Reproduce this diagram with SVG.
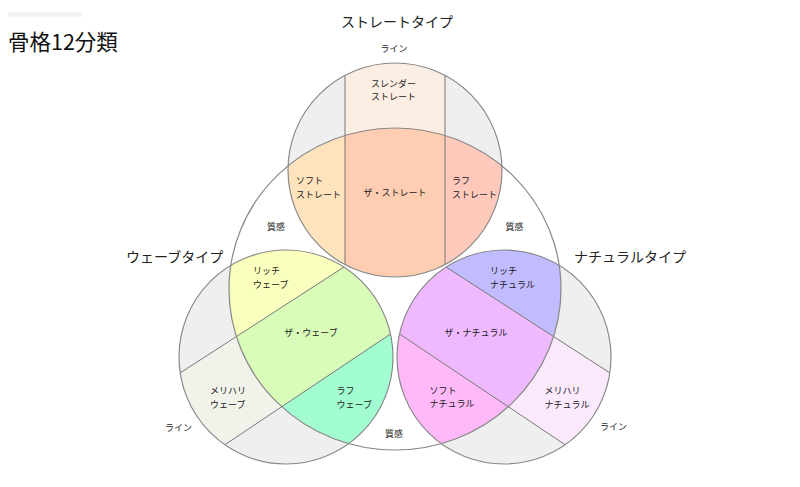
<svg xmlns="http://www.w3.org/2000/svg" width="800" height="487" viewBox="0 0 800 487">
<style>
text{font-family:"Noto Sans CJK JP","Noto Sans",sans-serif;fill:#222}
.t{font-size:14px}
.l{font-size:9px}
.ttl{font-size:21.5px;fill:#111}
.mid{text-anchor:middle}
.div{stroke:#777;stroke-width:1;fill:none}
.ring{fill:none;stroke:#888;stroke-width:1.2}
.gr{fill:#efefef}
</style>
<defs>
<clipPath id="cS"><circle cx="395" cy="170" r="107"/></clipPath>
<clipPath id="cW"><circle cx="286" cy="357" r="107"/></clipPath>
<clipPath id="cN"><circle cx="504" cy="357" r="107"/></clipPath>
<clipPath id="cE"><ellipse cx="395" cy="289" rx="166" ry="161"/></clipPath>
</defs>
<rect width="800" height="487" fill="#fff"/>
<rect x="8" y="12.5" width="74" height="4" fill="#f0f0f5"/>
<text class="ttl" x="8" y="49.5">骨格12分類</text>

<g id="texture">
<ellipse cx="395" cy="289" rx="166" ry="161" fill="#fff"/>
</g>

<g id="straight">
<g clip-path="url(#cS)">
<rect class="gr" x="280" y="55" width="230" height="230"/>
<rect x="345" y="55" width="100" height="230" fill="#fdeee3"/>
<g clip-path="url(#cE)">
<rect x="280" y="55" width="65" height="230" fill="#ffe3bd"/>
<rect x="345" y="55" width="100" height="230" fill="#ffcdb1"/>
<rect x="445" y="55" width="65" height="230" fill="#ffcabc"/>
</g>
<line class="div" x1="345" y1="55" x2="345" y2="285"/>
<line class="div" x1="445" y1="55" x2="445" y2="285"/>
</g>
</g>

<g id="wave">
<g clip-path="url(#cW)">
<rect class="gr" x="170" y="240" width="230" height="235"/>
<polygon points="430,211.4 90,431.2 90,534.9 430,307.6" fill="#f1f3ea"/>
<g clip-path="url(#cE)">
<polygon points="430,211.4 90,431.2 90,200 430,200" fill="#fbffbd"/>
<polygon points="430,211.4 90,431.2 90,534.9 430,307.6" fill="#d9fdb9"/>
<polygon points="430,307.6 90,534.9 90,560 430,560" fill="#a2fdd0"/>
</g>
<line class="div" x1="430" y1="211.4" x2="90" y2="431.2"/>
<line class="div" x1="430" y1="307.6" x2="90" y2="534.9"/>
</g>
</g>

<g id="natural">
<g clip-path="url(#cN)">
<rect class="gr" x="390" y="240" width="230" height="235"/>
<polygon points="360,211.4 700,431.2 700,534.9 360,307.6" fill="#fde9fd"/>
<g clip-path="url(#cE)">
<polygon points="360,211.4 700,431.2 700,200 360,200" fill="#c1bbff"/>
<polygon points="360,211.4 700,431.2 700,534.9 360,307.6" fill="#efb9ff"/>
<polygon points="360,307.6 700,534.9 700,560 360,560" fill="#ffb9f9"/>
</g>
<line class="div" x1="360" y1="211.4" x2="700" y2="431.2"/>
<line class="div" x1="360" y1="307.6" x2="700" y2="534.9"/>
</g>
</g>

<g id="outlines">
<ellipse class="ring" cx="395" cy="289" rx="166" ry="161"/>
<circle class="ring" cx="395" cy="170" r="107"/>
<circle class="ring" cx="286" cy="357" r="107"/>
<circle class="ring" cx="504" cy="357" r="107"/>
</g>

<g id="labels">
<text class="t mid" x="397" y="26.5">ストレートタイプ</text>
<text class="l mid" x="394" y="51.5">ライン</text>
<text class="l mid" x="393.5" y="86.5">スレンダー</text>
<text class="l mid" x="393.5" y="100">ストレート</text>
<text class="l" x="296" y="184">ソフト</text>
<text class="l" x="296" y="197.5">ストレート</text>
<text class="l mid" x="395" y="196">ザ・ストレート</text>
<text class="l" x="452" y="184">ラフ</text>
<text class="l" x="452" y="197.5">ストレート</text>
<text class="l mid" x="276" y="230">質感</text>
<text class="l mid" x="514.5" y="230">質感</text>
<text class="l mid" x="394" y="437">質感</text>

<text class="t" x="126" y="261.5">ウェーブタイプ</text>
<text class="l" x="253" y="274">リッチ</text>
<text class="l" x="253" y="287.5">ウェーブ</text>
<text class="l mid" x="311" y="336">ザ・ウェーブ</text>
<text class="l" x="210" y="394">メリハリ</text>
<text class="l" x="210" y="407.5">ウェーブ</text>
<text class="l" x="336.5" y="394">ラフ</text>
<text class="l" x="336.5" y="407.5">ウェーブ</text>
<text class="l" x="165" y="430.5">ライン</text>

<text class="t" x="574" y="261.5">ナチュラルタイプ</text>
<text class="l" x="490" y="274">リッチ</text>
<text class="l" x="490" y="287.5">ナチュラル</text>
<text class="l mid" x="476" y="336">ザ・ナチュラル</text>
<text class="l" x="429.5" y="393.5">ソフト</text>
<text class="l" x="429.5" y="407">ナチュラル</text>
<text class="l" x="544.5" y="394">メリハリ</text>
<text class="l" x="544.5" y="407.5">ナチュラル</text>
<text class="l" x="600" y="430">ライン</text>
</g>
</svg>
